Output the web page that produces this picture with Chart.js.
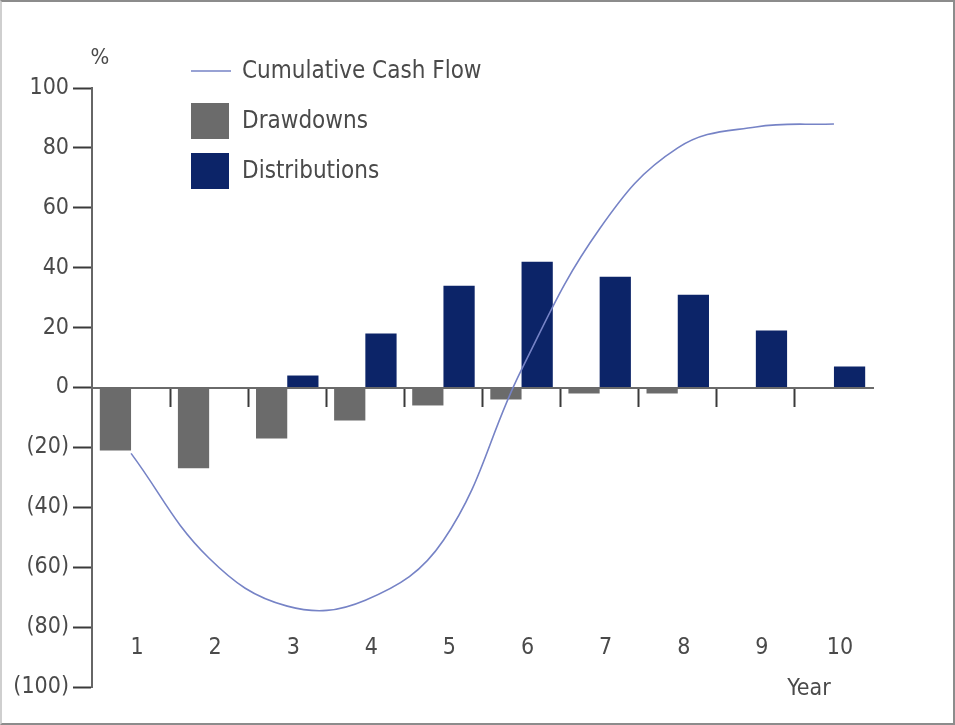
<!DOCTYPE html>
<html>
<head>
<meta charset="utf-8">
<title>Cumulative Cash Flow</title>
<script src="https://cdn.jsdelivr.net/npm/chart.js@4/dist/chart.umd.min.js"></script>
<style>
  html, body { margin: 0; padding: 0; background: #ffffff; }
  #wrap { position: relative; width: 955px; height: 725px; }
  #frame {
    position: absolute; left: 0; top: 0; width: 955px; height: 725px;
    box-sizing: border-box; border: 2px solid #8c8c8c; border-left-color: #cfcfcf;
    pointer-events: none;
  }
  canvas { display: block; }
</style>
</head>
<body>
<div id="wrap">
  <canvas id="chart" width="955" height="725"></canvas>
  <div id="frame"></div>
</div>
<script>
// Fund life cycle, % of commitment per year
const years = ['1', '2', '3', '4', '5', '6', '7', '8', '9', '10'];
const drawdowns = [-21, -27, -17, -11, -6, -4, -2, -2, 0, 0];
const distributions = [0, 0, 4, 18, 34, 42, 37, 31, 19, 7];
const cumulativeCashFlow = [-22, -57, -73, -71, -51, 6, 53, 80, 87, 88];
const yTickValues = [-100, -80, -60, -40, -20, 0, 20, 40, 60, 80, 100];

const FONT = "'DejaVu Sans Condensed', 'Liberation Sans Narrow', sans-serif";
const TEXT = '#4a4a4a';

// Percent values below zero are written in brackets
const fmtPct = v => (v < 0 ? '(' + (-v) + ')' : String(v));

// Legend block inside the plot plus the "%" and "Year" captions
const captions = {
  id: 'captions',
  afterDraw(chart) {
    const { ctx, chartArea, scales } = chart;
    ctx.save();
    ctx.textBaseline = 'middle';
    ctx.textAlign = 'left';

    const x0 = chartArea.left + 99;
    let yRow = chartArea.top - 17;
    chart.data.datasets.forEach(ds => {
      if (ds.type === 'line') {
        ctx.strokeStyle = ds.borderColor;
        ctx.lineWidth = ds.borderWidth;
        ctx.beginPath();
        ctx.moveTo(x0, yRow);
        ctx.lineTo(x0 + 40, yRow);
        ctx.stroke();
      } else {
        ctx.fillStyle = ds.backgroundColor;
        ctx.fillRect(x0, yRow - 18, 38, 36);
      }
      ctx.fillStyle = TEXT;
      ctx.font = '24px ' + FONT;
      ctx.fillText(ds.label, x0 + 51, yRow + 1);
      yRow += 50;
    });

    ctx.font = '22px ' + FONT;
    ctx.textAlign = 'center';
    ctx.fillText('%', chartArea.left + 8, scales.y.getPixelForValue(100) - 30);

    ctx.font = '23px ' + FONT;
    ctx.fillText('Year', scales.xLab.getPixelForValue(9) - 25, scales.y.getPixelForValue(-100) + 2);
    ctx.restore();
  }
};

new Chart(document.getElementById('chart'), {
  type: 'bar',
  data: {
    labels: years,
    datasets: [
      {
        type: 'line',
        label: 'Cumulative Cash Flow',
        data: cumulativeCashFlow,
        borderColor: '#7683c6',
        borderWidth: 1.6,
        pointRadius: 0,
        tension: 0.4,
        fill: false,
        order: 0
      },
      {
        label: 'Drawdowns',
        data: drawdowns,
        backgroundColor: '#6b6b6b',
        categoryPercentage: 0.8,
        barPercentage: 1.0,
        order: 1
      },
      {
        label: 'Distributions',
        data: distributions,
        backgroundColor: '#0c2468',
        categoryPercentage: 0.8,
        barPercentage: 1.0,
        order: 1
      }
    ]
  },
  options: {
    responsive: false,
    animation: false,
    devicePixelRatio: 1,
    layout: { padding: { top: 88, bottom: 38, left: 0, right: 82 } },
    plugins: {
      legend: { display: false },
      tooltip: { enabled: false }
    },
    scales: {
      y: {
        min: -100,
        max: 100,
        afterBuildTicks: s => { s.ticks = yTickValues.map(v => ({ value: v })); },
        afterFit: s => { s.width = 92; },
        ticks: {
          callback: v => fmtPct(v),
          color: TEXT,
          font: { family: FONT, size: 23 },
          padding: 4
        },
        grid: {
          drawOnChartArea: false,
          drawTicks: true,
          tickLength: 19,
          tickWidth: 2,
          tickColor: '#3a3a3a'
        },
        border: { display: true, color: '#666666', width: 2 }
      },
      // zero line with year separators below it
      x: {
        type: 'category',
        position: { y: 0 },
        offset: true,
        ticks: { display: false },
        grid: {
          offset: true,
          drawOnChartArea: false,
          drawTicks: true,
          tickLength: 18,
          tickWidth: 2,
          tickColor: c => (c.type === 'tick' && c.index > 0) ? '#3a3a3a' : 'rgba(0,0,0,0)'
        },
        border: { display: true, color: '#6a6a6a', width: 2 }
      },
      // year numbers near the foot of the plot
      xLab: {
        type: 'category',
        labels: years,
        position: { y: -80 },
        offset: true,
        grid: { display: false, drawTicks: false },
        border: { display: false },
        ticks: {
          color: TEXT,
          font: { family: FONT, size: 23 },
          padding: 7,
          labelOffset: 6
        }
      }
    }
  },
  plugins: [captions]
});
</script>
</body>
</html>
